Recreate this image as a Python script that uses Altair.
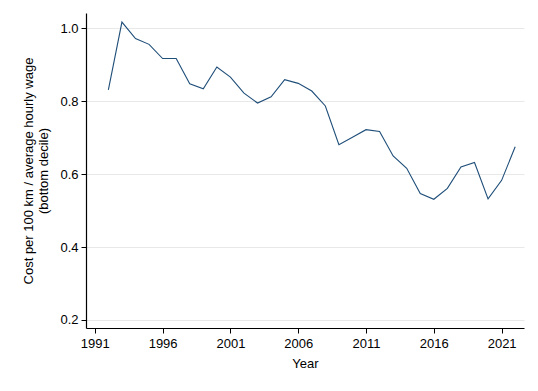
import altair as alt
import pandas as pd

years = list(range(1992, 2023))
values = [0.831, 1.017, 0.972, 0.956, 0.917, 0.917, 0.848, 0.834, 0.894, 0.866,
          0.822, 0.795, 0.812, 0.859, 0.849, 0.828, 0.787, 0.681, 0.701, 0.722,
          0.717, 0.650, 0.616, 0.547, 0.531, 0.561, 0.620, 0.632, 0.532, 0.583,
          0.675]
x_ticks = [1991, 1996, 2001, 2006, 2011, 2016, 2021]
y_ticks = [0.2, 0.4, 0.6, 0.8, 1.0]

df = pd.DataFrame({"Year": years, "Value": values})

font = "Liberation Sans"

chart = alt.Chart(df).mark_line(color="#1f4e79", strokeWidth=1.1).encode(
    x=alt.X("Year:Q",
            scale=alt.Scale(domain=[1990.35, 2022.65], nice=False, zero=False),
            axis=alt.Axis(values=x_ticks, format="d", title="Year", grid=False,
                          domainColor="black", tickColor="black", tickSize=5,
                          labelFontSize=13, titleFontSize=13, labelColor="black",
                          titleColor="black", titleFontWeight="normal",
                          labelFont=font, titleFont=font, labelPadding=4,
                          titlePadding=7, domainWidth=1.2, labelFlush=False)),
    y=alt.Y("Value:Q",
            scale=alt.Scale(domain=[0.178, 1.042], nice=False, zero=False),
            axis=alt.Axis(values=y_ticks, format=".1f",
                          title=["Cost per 100 km / average hourly wage", "(bottom decile)"],
                          grid=True, gridColor="#e8e8e8", gridWidth=1,
                          domainColor="black", tickColor="black", tickSize=5,
                          labelFontSize=13, titleFontSize=13, labelColor="black",
                          titleColor="black", titleFontWeight="normal",
                          labelFont=font, titleFont=font, labelPadding=3,
                          titlePadding=9, domainWidth=1.2, labelFlush=False)),
).properties(
    width=438, height=315,
    autosize=alt.AutoSizeParams(type="none"),
    padding={"left": 78, "top": 5, "right": 6, "bottom": 50},
).configure(background="white").configure_view(stroke=None, strokeWidth=0)

chart.save("out.html", embed_options={"renderer": "svg", "actions": False})
